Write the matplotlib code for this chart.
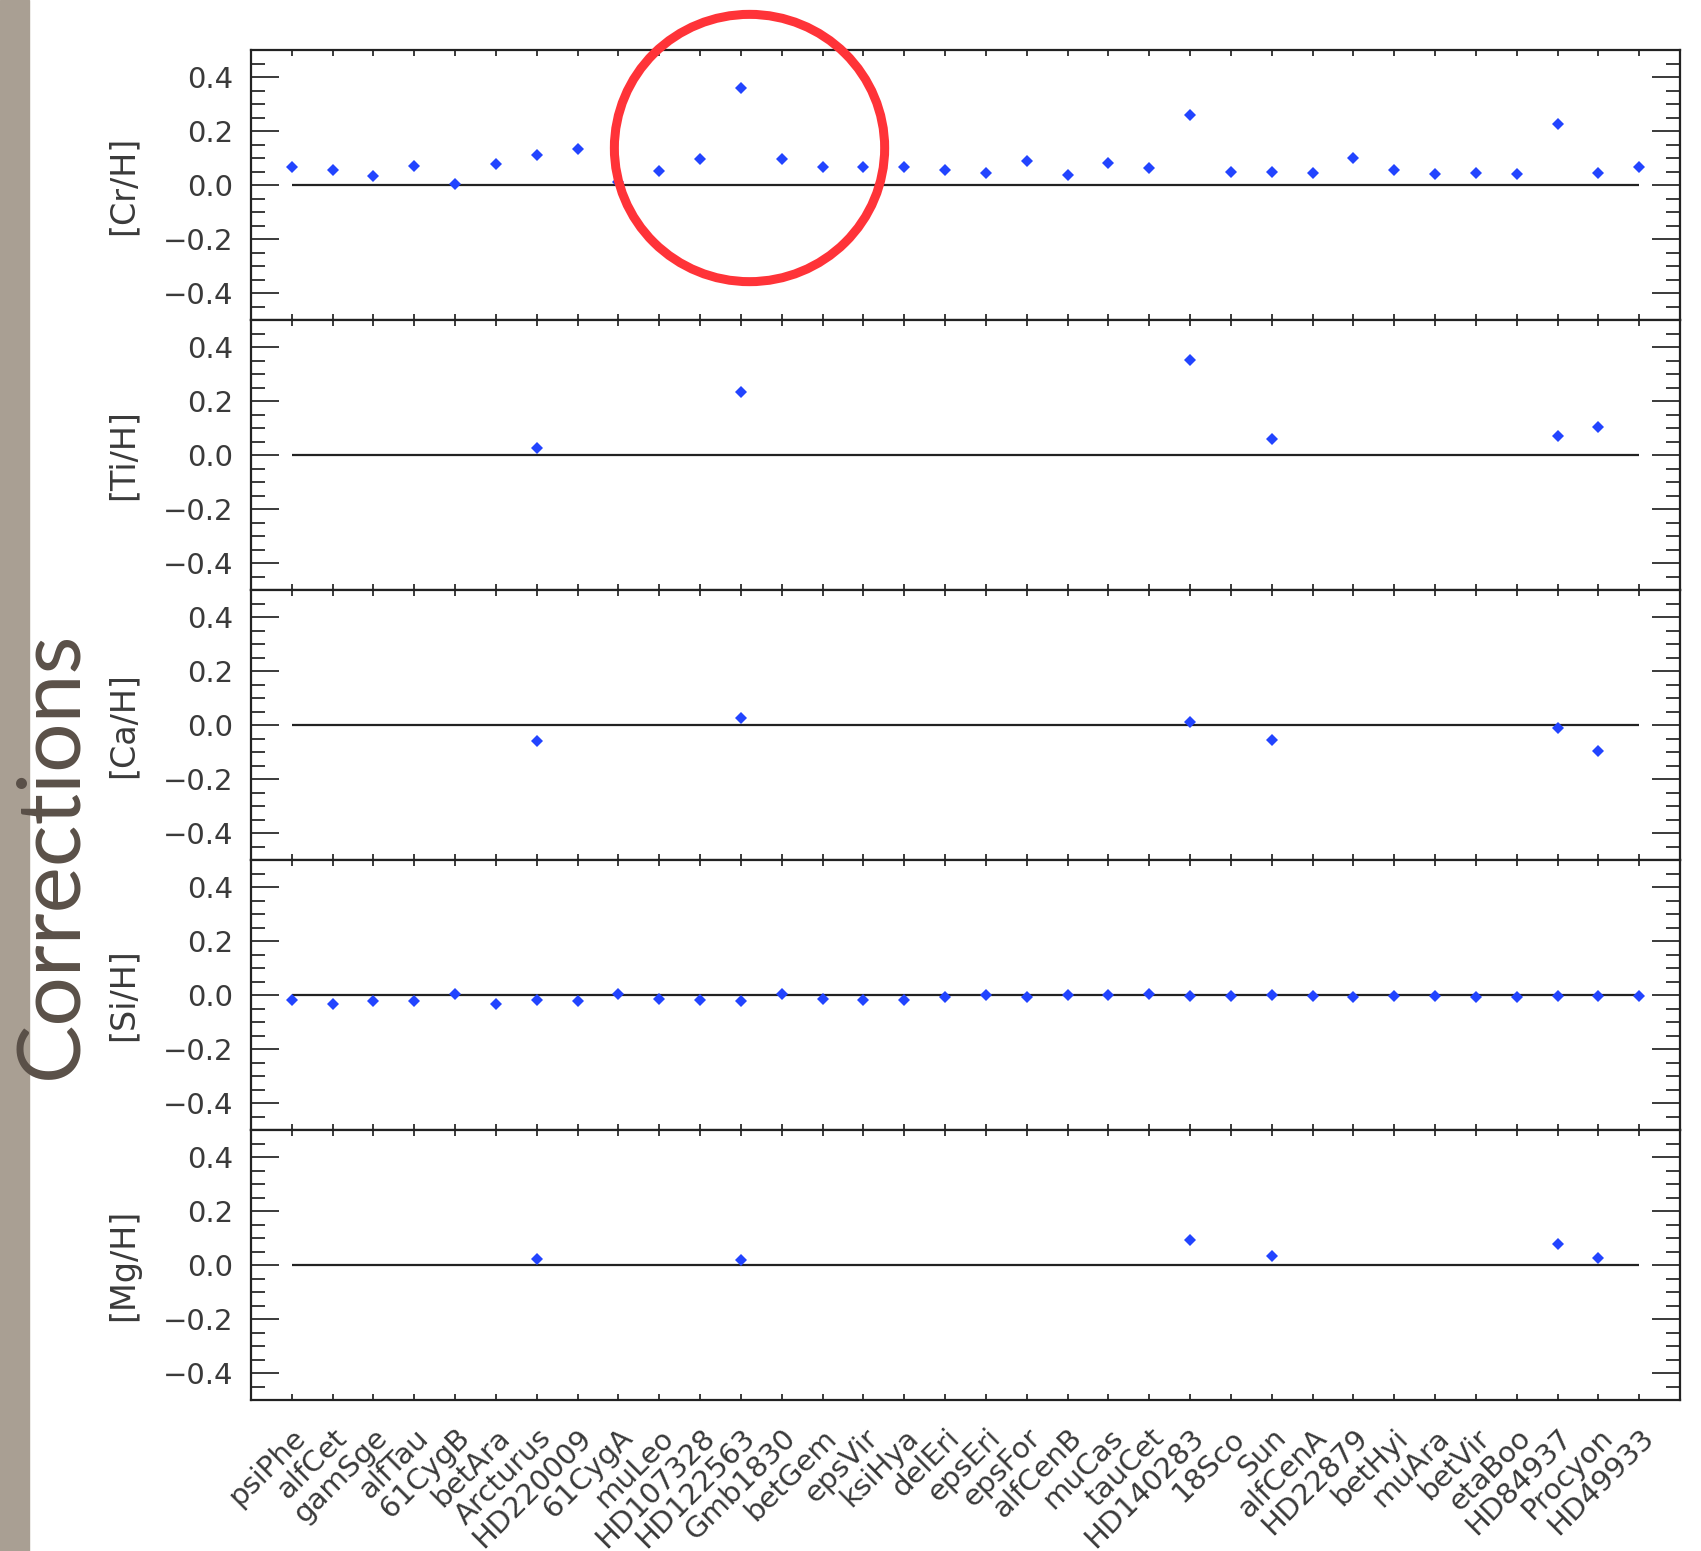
import matplotlib.pyplot as plt
from matplotlib.patches import Ellipse, Rectangle
from matplotlib.ticker import MultipleLocator

# star sample (x axis)
stars = ["psiPhe", "alfCet", "gamSge", "alfTau", "61CygB", "betAra", "Arcturus",
         "HD220009", "61CygA", "muLeo", "HD107328", "HD122563", "Gmb1830",
         "betGem", "epsVir", "ksiHya", "delEri", "epsEri", "epsFor", "alfCenB",
         "muCas", "tauCet", "HD140283", "18Sco", "Sun", "alfCenA", "HD22879",
         "betHyi", "muAra", "betVir", "etaBoo", "HD84937", "Procyon", "HD49933"]

# corrections for every star
cr_h = [0.068, 0.057, 0.034, 0.070, 0.004, 0.079, 0.110, 0.133, 0.010, 0.053,
        0.096, 0.361, 0.096, 0.068, 0.068, 0.066, 0.054, 0.045, 0.088, 0.038,
        0.080, 0.063, 0.258, 0.048, 0.048, 0.045, 0.099, 0.054, 0.042, 0.043,
        0.042, 0.225, 0.043, 0.067]
si_h = [-0.017, -0.032, -0.024, -0.024, 0.003, -0.032, -0.020, -0.024, 0.002,
        -0.015, -0.017, -0.024, 0.002, -0.014, -0.017, -0.017, -0.008, 0.001,
        -0.006, 0.0, 0.0, 0.002, -0.005, -0.003, 0.0, -0.005, -0.008, -0.005,
        -0.005, -0.006, -0.009, -0.004, -0.005, -0.005]

# stars that only have Ti, Ca and Mg corrections
sub_stars = ["Arcturus", "HD122563", "HD140283", "Sun", "HD84937", "Procyon"]
ti_h = [0.026, 0.233, 0.351, 0.060, 0.072, 0.103]
ca_h = [-0.058, 0.027, 0.011, -0.055, -0.011, -0.095]
mg_h = [0.024, 0.020, 0.091, 0.032, 0.076, 0.027]

labels = ["[Cr/H]", "[Ti/H]", "[Ca/H]", "[Si/H]", "[Mg/H]"]

xpos = list(range(len(stars)))
sub_x = [stars.index(s) for s in sub_stars]
panels = [(xpos, cr_h), (sub_x, ti_h), (sub_x, ca_h), (xpos, si_h), (sub_x, mg_h)]

W, H = 1701, 1551
fig = plt.figure(figsize=(W / 100, H / 100), dpi=100)
fig.add_artist(Rectangle((0, 0), 29 / W, 1, transform=fig.transFigure,
                         color="#a99f93", zorder=0))

text_col = "#3a3a3a"
left, right, top, ph = 251, 1680, 50, 270

axes = []
for i, (label, (xs, ys)) in enumerate(zip(labels, panels)):
    bottom = 1 - (top + ph * (i + 1)) / H
    ax = fig.add_axes([left / W, bottom, (right - left) / W, ph / H])
    ax.set_xlim(-1, len(stars))
    ax.set_ylim(-0.5, 0.5)
    ax.hlines(0, xpos[0], xpos[-1], color="#222222", lw=1.6, zorder=2)
    ax.plot(xs, ys, "D", color="#2244ff", ms=5.8, mew=0, zorder=3)

    ax.set_xticks(xpos)
    ax.yaxis.set_major_locator(MultipleLocator(0.2))
    ax.yaxis.set_minor_locator(MultipleLocator(0.05))
    ax.tick_params(axis="y", which="major", direction="in", length=20, width=1.4,
                   left=True, right=True, labelsize=21, pad=13, colors=text_col)
    ax.tick_params(axis="y", which="minor", direction="in", length=10, width=1.4,
                   left=True, right=True, colors=text_col)
    ax.tick_params(axis="x", which="major", direction="in", length=4, width=1.4,
                   top=True, bottom=True, colors=text_col, pad=17)
    for sp in ax.spines.values():
        sp.set_linewidth(1.6)
        sp.set_color("#222222")

    if i == len(labels) - 1:
        ax.set_xticklabels(stars, rotation=45, ha="right", va="top",
                           rotation_mode="anchor", fontsize=21, color=text_col)
    else:
        ax.set_xticklabels([])

    ax.set_ylabel(label, fontsize=24, color=text_col)
    ax.yaxis.set_label_coords((140 - left) / (right - left), 0.5)
    axes.append(ax)

# highlight circle on the [Cr/H] panel
axes[0].add_patch(Ellipse((11.21, 0.137), 6.62, 0.99, fill=False,
                          ec="#ff3338", lw=6.5, clip_on=False, zorder=10))

fig.text(52 / W, 1 - 855 / H, "Corrections", rotation=90, ha="center",
         va="center", fontsize=63, family=["Lato", "DejaVu Sans"],
         fontweight="normal", color="#5a5048")

fig.savefig("out.png", dpi=100)
